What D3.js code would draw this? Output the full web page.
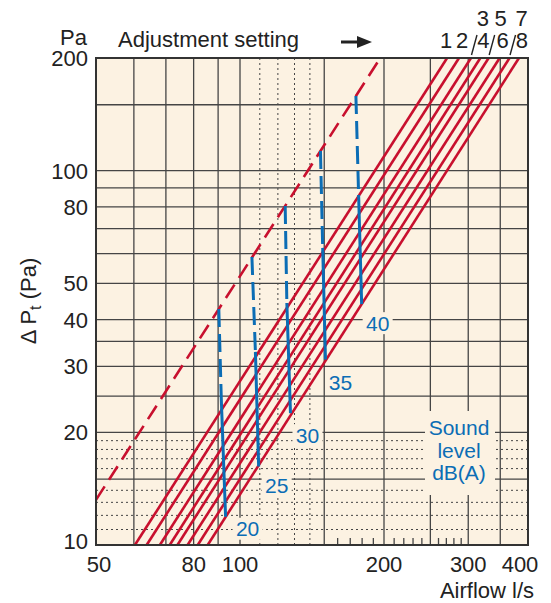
<!DOCTYPE html>
<html lang="en">
<head>
  <meta charset="UTF-8">
  <title>Pressure drop vs airflow</title>
  <script src="https://d3js.org/d3.v7.min.js"></script>
  <style>
    body {
      margin: 0;
      background: white;
      font-family: "Liberation Sans", Arial, sans-serif;
    }
    text {
      fill: #222;
    }
  </style>
</head>
<body>
  <div id="chart"></div>
  <script>
    // axis ticks / grid
    const xTicks = [50, 80, 100, 200, 300, 400];
    const yTicks = [10, 20, 30, 40, 50, 80, 100, 200];
    const xGridSolid = [60, 70, 80, 90, 100, 150, 200, 250, 300, 350];
    const xGridDotted = [110, 120, 130, 140];
    const yGridSolid = [15, 20, 25, 30, 35, 40, 50, 60, 70, 80, 90, 100, 150];
    const yGridDotted = [11, 12, 13, 14, 16, 17, 18, 19];
    const xMinorTicks = [160, 170, 180, 190, 210, 220, 230, 240, 260, 270, 280, 290];

    // adjustment settings 1..8 : airflow at 10 Pa and at 200 Pa
    const settings = [1, 2, 3, 4, 5, 6, 7, 8];
    const settingQ10 = [60.3, 63.8, 68, 71.3, 74, 77.7, 81.6, 85.6];
    const settingQ200 = [271, 287, 304, 318, 331, 349, 366, 383];

    // max line (dashed)
    const maxLine = [[50, 13.2], [196.5, 200]];

    // sound level lines: top point (on max line), solid start, solid end
    const soundLevels = [20, 25, 30, 35, 40];
    const soundTop = [[90.3, 42.7], [105.9, 58.8], [124.3, 80.5], [147.3, 112.9], [174.7, 158.3]];
    const soundMid = [[91.4, 24.4], [107.7, 32.8], [125.3, 44.3], [148.9, 62.2], [177, 86.1]];
    const soundEnd = [[93.3, 11.9], [109.4, 16.2], [127.5, 22.5], [150.9, 31.3], [179.6, 44.0]];
    const labelOffsets = [[22, 12], [18, 19], [17, 22], [15, 23], [16, 19]];

    const W = 551, H = 603;
    const bg = "#fcf2e2", red = "#c8102e", blue = "#0b6db5", grid = "#454545";

    const x = d3.scaleLog().domain([50, 400]).range([96, 528]);
    const y = d3.scaleLog().domain([10, 200]).range([545, 58]);

    const svg = d3.select("#chart").append("svg")
      .attr("width", W).attr("height", H)
      .style("font-family", "'Liberation Sans', Arial, sans-serif");

    svg.append("rect")
      .attr("x", x(50)).attr("y", y(200))
      .attr("width", x(400) - x(50)).attr("height", y(10) - y(200))
      .attr("fill", bg);

    const g = svg.append("g");

    // grid
    g.selectAll(".vs").data(xGridSolid).join("line")
      .attr("x1", d => x(d)).attr("x2", d => x(d))
      .attr("y1", y(200)).attr("y2", y(10))
      .attr("stroke", grid).attr("stroke-width", 1.3);
    g.selectAll(".vd").data(xGridDotted).join("line")
      .attr("x1", d => x(d)).attr("x2", d => x(d))
      .attr("y1", y(200)).attr("y2", y(10))
      .attr("stroke", grid).attr("stroke-width", 1).attr("stroke-dasharray", "2,3");
    g.selectAll(".hs").data(yGridSolid).join("line")
      .attr("x1", x(50)).attr("x2", x(400))
      .attr("y1", d => y(d)).attr("y2", d => y(d))
      .attr("stroke", grid).attr("stroke-width", 1.3);
    g.selectAll(".hd").data(yGridDotted).join("line")
      .attr("x1", x(50)).attr("x2", x(400))
      .attr("y1", d => y(d)).attr("y2", d => y(d))
      .attr("stroke", grid).attr("stroke-width", 1).attr("stroke-dasharray", "2,3");
    g.selectAll(".mt").data(xMinorTicks).join("line")
      .attr("x1", d => x(d)).attr("x2", d => x(d))
      .attr("y1", y(10) - 7).attr("y2", y(10))
      .attr("stroke", grid).attr("stroke-width", 1.3);

    // label backgrounds (hide the grid behind the labels)
    soundLevels.forEach((s, i) => {
      const cx = x(soundEnd[i][0]) + labelOffsets[i][0];
      const cy = y(soundEnd[i][1]) + labelOffsets[i][1];
      g.append("rect")
        .attr("x", cx - 15).attr("y", cy - 11)
        .attr("width", 30).attr("height", 22)
        .attr("fill", bg);
    });
    g.append("rect")
      .attr("x", 425).attr("y", 411).attr("width", 70).attr("height", 84)
      .attr("fill", bg);

    // setting lines
    g.selectAll(".set").data(settings).join("line")
      .attr("x1", (d, i) => x(settingQ10[i])).attr("y1", y(10))
      .attr("x2", (d, i) => x(settingQ200[i])).attr("y2", y(200))
      .attr("stroke", red).attr("stroke-width", 2.6);

    g.append("line")
      .attr("x1", x(maxLine[0][0])).attr("y1", y(maxLine[0][1]))
      .attr("x2", x(maxLine[1][0])).attr("y2", y(maxLine[1][1]))
      .attr("stroke", red).attr("stroke-width", 2.6)
      .attr("stroke-dasharray", "16,8");

    // sound level lines
    soundLevels.forEach((s, i) => {
      g.append("line")
        .attr("x1", x(soundTop[i][0])).attr("y1", y(soundTop[i][1]))
        .attr("x2", x(soundMid[i][0])).attr("y2", y(soundMid[i][1]))
        .attr("stroke", blue).attr("stroke-width", 3)
        .attr("stroke-dasharray", "18,7");
      g.append("line")
        .attr("x1", x(soundMid[i][0])).attr("y1", y(soundMid[i][1]))
        .attr("x2", x(soundEnd[i][0])).attr("y2", y(soundEnd[i][1]))
        .attr("stroke", blue).attr("stroke-width", 3);
      g.append("text")
        .attr("x", x(soundEnd[i][0]) + labelOffsets[i][0])
        .attr("y", y(soundEnd[i][1]) + labelOffsets[i][1])
        .attr("dy", "0.36em")
        .attr("text-anchor", "middle")
        .style("font-size", "21px")
        .style("fill", blue)
        .text(s);
    });

    const sl = g.append("text")
      .attr("text-anchor", "middle")
      .style("font-size", "21px")
      .style("fill", blue);
    ["Sound", "level", "dB(A)"].forEach((t, i) => {
      sl.append("tspan").attr("x", 459).attr("y", 435 + i * 22.5).text(t);
    });

    // frame
    svg.append("rect")
      .attr("x", x(50)).attr("y", y(200))
      .attr("width", x(400) - x(50)).attr("height", y(10) - y(200))
      .attr("fill", "none").attr("stroke", "#333").attr("stroke-width", 2);

    // axis labels
    svg.selectAll(".yt").data(yTicks).join("text")
      .attr("x", 88).attr("y", d => y(d))
      .attr("dy", d => d === 10 ? "0.2em" : "0.36em")
      .attr("text-anchor", "end")
      .style("font-size", "22px")
      .text(d => d);
    svg.selectAll(".xt").data(xTicks).join("text")
      .attr("x", d => d === 400 ? x(d) - 8 : d === 50 ? x(d) + 3 : x(d))
      .attr("y", 572)
      .attr("text-anchor", "middle")
      .style("font-size", "22px")
      .text(d => d);

    svg.append("text")
      .attr("x", 534).attr("y", 598)
      .attr("text-anchor", "end")
      .style("font-size", "22px")
      .text("Airflow l/s");

    svg.append("text")
      .attr("x", 87).attr("y", 45)
      .attr("text-anchor", "end")
      .style("font-size", "22px")
      .text("Pa");

    const yt = svg.append("text")
      .attr("transform", "translate(36,301) rotate(-90)")
      .attr("text-anchor", "middle")
      .style("font-size", "22px");
    yt.append("tspan").text("\u0394 P");
    yt.append("tspan").attr("dy", 5).style("font-size", "16px").text("t");
    yt.append("tspan").attr("dy", -5).text(" (Pa)");

    svg.append("text")
      .attr("x", 118).attr("y", 47)
      .style("font-size", "22px")
      .text("Adjustment setting");

    // arrow
    svg.append("line")
      .attr("x1", 341).attr("x2", 360).attr("y1", 42).attr("y2", 42)
      .attr("stroke", "#222").attr("stroke-width", 3);
    svg.append("path")
      .attr("d", "M357,36 L372,42 L357,48 Z")
      .attr("fill", "#222");

    // setting numbers above the lines
    settings.forEach((s, i) => {
      const xt = x(settingQ200[i]);
      const odd = s % 2 === 1 && s > 1;
      if (odd) {
        svg.append("text")
          .attr("x", xt + 12).attr("y", 26)
          .attr("text-anchor", "middle")
          .style("font-size", "22px")
          .text(s);
        svg.append("line")
          .attr("x1", xt + 6).attr("y1", 35)
          .attr("x2", xt + 0.5).attr("y2", 55)
          .attr("stroke", "#222").attr("stroke-width", 1.4);
      } else {
        svg.append("text")
          .attr("x", xt + (s === 1 ? -1 : 3)).attr("y", 48)
          .attr("text-anchor", "middle")
          .style("font-size", "22px")
          .text(s);
      }
    });
  </script>
</body>
</html>
